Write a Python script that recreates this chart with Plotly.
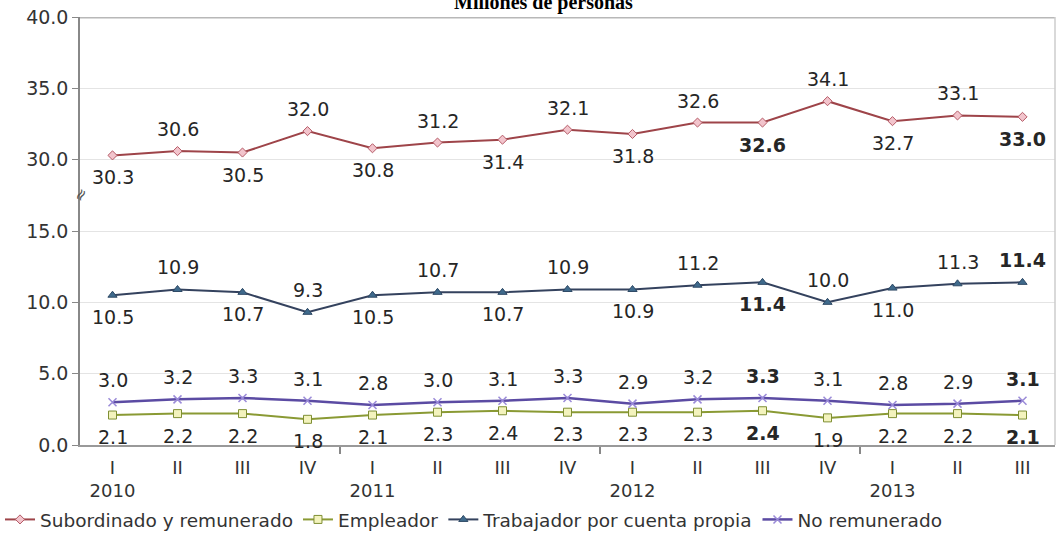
import plotly.graph_objects as go

# Quarter labels and year row
quarters = ["I", "II", "III", "IV", "I", "II", "III", "IV",
            "I", "II", "III", "IV", "I", "II", "III"]
years = ["2010", "", "", "", "2011", "", "", "",
         "2012", "", "", "", "2013", "", ""]

# Series values (millones de personas)
subordinado = [30.3, 30.6, 30.5, 32.0, 30.8, 31.2, 31.4, 32.1,
               31.8, 32.6, 32.6, 34.1, 32.7, 33.1, 33.0]
empleador = [2.1, 2.2, 2.2, 1.8, 2.1, 2.3, 2.4, 2.3,
             2.3, 2.3, 2.4, 1.9, 2.2, 2.2, 2.1]
cuenta_propia = [10.5, 10.9, 10.7, 9.3, 10.5, 10.7, 10.7, 10.9,
                 10.9, 11.2, 11.4, 10.0, 11.0, 11.3, 11.4]
no_remunerado = [3.0, 3.2, 3.3, 3.1, 2.8, 3.0, 3.1, 3.3,
                 2.9, 3.2, 3.3, 3.1, 2.8, 2.9, 3.1]

# label side for each point: 1 above, -1 below
sub_side = [-1, 1, -1, 1, -1, 1, -1, 1, -1, 1, -1, 1, -1, 1, -1]
emp_side = [-1] * 15
cp_side = [-1, 1, -1, 1, -1, 1, -1, 1, -1, 1, -1, 1, -1, 1, 1]
nr_side = [1] * 15
bold_idx = [10, 14]

# y-axis tick labels (axis break between 15 and 30)
y_ticks = ["0.0", "5.0", "10.0", "15.0", "30.0", "35.0", "40.0"]
BREAK = 10  # values >= 30 are drawn 10 units lower


def shift(v):
    return v - BREAK if v >= 30 else v


x = list(range(len(quarters)))
FONT = "DejaVu Sans"

fig = go.Figure()

series = [
    ("Subordinado y remunerado", subordinado, sub_side,
     dict(color="#9e4449", width=2),
     dict(symbol="diamond", size=7, color="#f2c4cc", line=dict(color="#b55a66", width=1))),
    ("Empleador", empleador, emp_side,
     dict(color="#8a9a34", width=2),
     dict(symbol="square", size=8, color="#f3f3bd", line=dict(color="#7f8f34", width=1))),
    ("Trabajador por cuenta propia", cuenta_propia, cp_side,
     dict(color="#34425e", width=2),
     dict(symbol="triangle-up", size=8, color="#3f6a8c", line=dict(color="#2f4a66", width=1))),
    ("No remunerado", no_remunerado, nr_side,
     dict(color="#5b4ba3", width=2.5),
     dict(symbol="x-thin-open", size=8, color="#9a8ad8", line=dict(color="#9a8ad8", width=1.5))),
]

annotations = []
for name, vals, sides, line, marker in series:
    fig.add_trace(go.Scatter(
        x=x, y=[shift(v) for v in vals], name=name,
        mode="lines+markers", line=line, marker=marker,
    ))
    for i, v in enumerate(vals):
        txt = f"{v:.1f}"
        if i in bold_idx:
            txt = f"<b>{txt}</b>"
        annotations.append(dict(
            x=i, y=shift(v), text=txt, showarrow=False,
            yshift=22 * sides[i], xref="x", yref="y",
            font=dict(family=FONT, size=19, color="#262626"),
        ))

# year-boundary ticks on a helper axis
fig.add_trace(go.Scatter(x=[0], y=[0], xaxis="x2", showlegend=False,
                         mode="markers", marker=dict(opacity=0), hoverinfo="skip"))

# axis break marker
annotations.append(dict(
    x=0, xref="paper", xanchor="center", y=17.5, yref="y", yanchor="middle",
    text="≈", showarrow=False, textangle=-60,
    font=dict(family=FONT, size=16, color="#555"),
))
# title, clipped at the top edge as in the source
annotations.append(dict(
    x=0.475, xref="paper", y=1.035, yref="paper", yanchor="middle",
    text="<b>Millones de personas</b>", showarrow=False,
    font=dict(family="Liberation Serif", size=20, color="#000"),
))

ticktext = [q + "<br>" + y if y else q + "<br> " for q, y in zip(quarters, years)]

fig.update_layout(
    width=1058, height=535,
    margin=dict(l=80, r=3, t=17, b=90, autoexpand=False),
    paper_bgcolor="white", plot_bgcolor="white",
    font=dict(family=FONT, size=18, color="#333"),
    annotations=annotations,
    showlegend=True,
    legend=dict(orientation="h", xref="container", x=0.0, xanchor="left",
                y=-0.175, yanchor="middle",
                font=dict(family=FONT, size=18.5, color="#333"),
                itemwidth=30, tracegroupgap=0, bgcolor="rgba(0,0,0,0)"),
    xaxis=dict(
        range=[-0.5, 14.5], tickmode="array", tickvals=x, ticktext=ticktext,
        showgrid=False, zeroline=False, ticks="", showline=False,
        ticklabelstandoff=10,
        tickfont=dict(family=FONT, size=18, color="#333"),
    ),
    xaxis2=dict(
        range=[-0.5, 14.5], overlaying="x", side="bottom", anchor="y",
        tickmode="array", tickvals=[3.5, 7.5, 11.5], ticktext=["", "", ""],
        ticks="outside", ticklen=7, tickcolor="#888", tickwidth=1.5,
        showgrid=False, zeroline=False, showline=True, linecolor="#999", linewidth=2,
    ),
    yaxis=dict(
        range=[0, 30], tickmode="array", tickvals=[0, 5, 10, 15, 20, 25, 30],
        ticktext=y_ticks, showgrid=True, gridcolor="#e4e4e4", gridwidth=1,
        zeroline=False, showline=True, linecolor="#888", linewidth=1.5,
        ticks="outside", ticklen=6, tickcolor="#888",
        tickfont=dict(family=FONT, size=19, color="#333"),
    ),
)

# thick grey border line at the top value
fig.add_shape(type="line", xref="paper", yref="y", x0=0, x1=1, y0=30, y1=30,
              line=dict(color="#b8b8b8", width=3))
fig.add_shape(type="line", xref="paper", yref="paper", x0=1, x1=1, y0=0, y1=1,
              line=dict(color="#cccccc", width=1.5))

# page body margin would shift the figure by 8px
fig.write_html("out.html", config={"displayModeBar": False},
               post_script="document.body.style.margin='0';")
